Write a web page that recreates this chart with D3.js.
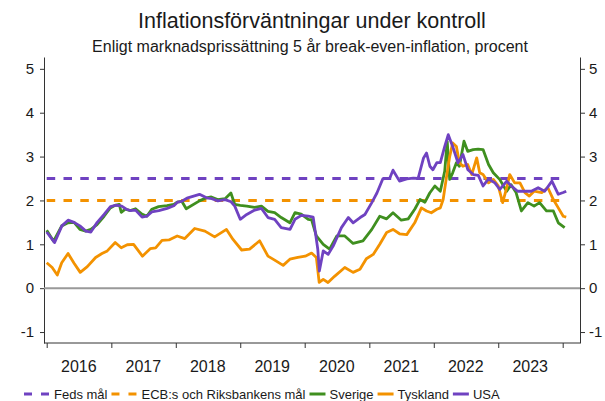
<!DOCTYPE html>
<html>
<head>
<meta charset="utf-8">
<script src="https://cdn.jsdelivr.net/npm/d3@7"></script>
<style>
body { margin: 0; background: #fff; }
text { font-family: "Liberation Sans", Arial, sans-serif; fill: #1a1a1a; }
</style>
</head>
<body>
<div id="chart"></div>
<script>
// 5 år break-even-inflation, procent
var sverige = [
    ["2016-01-01",1.32],["2016-02-09",1.07],["2016-03-26",1.42],["2016-05-01",1.49],["2016-06-04",1.50],
    ["2016-07-07",1.34],["2016-08-09",1.30],["2016-09-07",1.34],["2016-10-12",1.45],["2016-11-21",1.64],
    ["2016-12-26",1.83],["2017-01-23",1.89],["2017-02-15",1.91],["2017-02-26",1.73],["2017-03-21",1.80],
    ["2017-04-18",1.77],["2017-05-18",1.81],["2017-06-23",1.69],["2017-07-21",1.64],["2017-08-18",1.80],
    ["2017-09-26",1.86],["2017-11-12",1.88],["2017-12-21",1.91],["2018-01-09",1.96],["2018-02-04",1.98],
    ["2018-03-01",1.81],["2018-05-15",1.99],["2018-06-23",2.06],["2018-07-21",2.08],["2018-08-26",2.02],
    ["2018-10-07",2.04],["2018-11-09",2.17],["2018-12-01",1.91],["2019-01-01",1.89],["2019-02-07",1.87],
    ["2019-03-23",1.84],["2019-05-01",1.87],["2019-06-07",1.75],["2019-07-15",1.72],["2019-08-21",1.61],
    ["2019-10-09",1.49],["2019-11-07",1.72],["2019-12-12",1.69],["2020-01-21",1.57],["2020-02-09",1.56],
    ["2020-03-07",1.19],["2020-04-15",1.00],["2020-05-21",0.89],["2020-07-01",1.19],["2020-08-15",1.19],
    ["2020-10-01",1.02],["2020-11-26",1.08],["2021-01-15",1.34],["2021-03-01",1.64],["2021-04-09",1.58],
    ["2021-05-15",1.72],["2021-07-01",1.55],["2021-08-09",1.58],["2021-09-15",1.80],["2021-10-15",2.02],
    ["2021-11-12",1.96],["2021-12-09",2.17],["2022-01-07",2.33],["2022-02-07",2.21],["2022-03-04",2.67],
    ["2022-03-18",3.35],["2022-04-01",2.48],["2022-04-18",2.63],["2022-05-09",2.86],["2022-05-26",2.78],
    ["2022-06-21",3.35],["2022-07-12",3.12],["2022-08-12",3.16],["2022-09-09",3.17],["2022-10-07",3.16],
    ["2022-11-07",2.82],["2022-12-04",2.63],["2023-01-09",2.48],["2023-02-18",2.21],["2023-03-15",2.36],
    ["2023-04-12",2.18],["2023-05-12",1.76],["2023-06-18",1.95],["2023-07-23",1.87],["2023-08-23",1.95],
    ["2023-10-01",1.76],["2023-11-09",1.76],["2023-12-07",1.49],["2024-01-12",1.38]
];

var tyskland = [
    ["2016-01-01",0.58],["2016-02-01",0.47],["2016-03-01",0.30],["2016-03-26",0.58],["2016-05-01",0.79],
    ["2016-06-04",0.57],["2016-07-09",0.36],["2016-08-18",0.49],["2016-10-04",0.70],["2016-11-09",0.79],
    ["2016-12-09",0.85],["2017-01-23",1.04],["2017-02-26",0.92],["2017-04-01",0.99],["2017-05-07",1.00],
    ["2017-06-26",0.73],["2017-08-09",0.90],["2017-09-09",0.92],["2017-10-15",1.09],["2017-11-23",1.10],
    ["2018-01-09",1.19],["2018-02-21",1.13],["2018-04-18",1.36],["2018-06-15",1.30],["2018-08-09",1.17],
    ["2018-10-15",1.34],["2018-11-21",1.11],["2019-01-09",0.87],["2019-02-23",0.89],["2019-04-21",1.08],
    ["2019-06-07",0.73],["2019-07-15",0.64],["2019-09-01",0.52],["2019-10-09",0.66],["2019-11-23",0.70],
    ["2020-01-04",0.73],["2020-02-09",0.80],["2020-03-07",0.70],["2020-03-23",0.13],["2020-04-15",0.20],
    ["2020-05-12",0.13],["2020-06-18",0.27],["2020-08-15",0.47],["2020-10-01",0.36],["2020-11-09",0.43],
    ["2020-12-15",0.67],["2021-01-23",0.77],["2021-03-01",1.00],["2021-04-09",1.27],["2021-05-15",1.34],
    ["2021-06-21",1.24],["2021-08-01",1.22],["2021-09-15",1.49],["2021-10-23",1.83],["2021-11-21",1.76],
    ["2021-12-18",1.72],["2022-01-18",1.80],["2022-02-07",1.83],["2022-02-23",2.02],["2022-03-12",2.48],
    ["2022-04-01",3.00],["2022-04-18",3.31],["2022-05-09",3.23],["2022-05-26",2.86],["2022-06-15",2.78],
    ["2022-07-12",2.82],["2022-08-04",2.59],["2022-09-01",2.97],["2022-09-18",2.63],["2022-10-07",2.59],
    ["2022-11-07",2.40],["2022-12-04",2.48],["2023-01-01",2.33],["2023-01-26",1.95],["2023-02-18",2.29],
    ["2023-03-07",2.59],["2023-04-04",2.40],["2023-05-04",2.40],["2023-06-01",2.18],["2023-06-26",2.10],
    ["2023-07-23",2.21],["2023-09-04",2.18],["2023-10-09",2.29],["2023-11-09",2.02],["2023-12-07",1.83],
    ["2024-01-04",1.64],["2024-01-21",1.62]
];

var usa = [
    ["2016-01-01",1.28],["2016-02-15",1.04],["2016-03-27",1.42],["2016-05-01",1.55],["2016-06-04",1.50],
    ["2016-07-07",1.42],["2016-08-10",1.30],["2016-09-07",1.28],["2016-10-13",1.50],["2016-11-21",1.68],
    ["2016-12-27",1.86],["2017-01-24",1.89],["2017-02-15",1.88],["2017-03-01",1.87],["2017-03-27",1.80],
    ["2017-04-18",1.77],["2017-05-18",1.78],["2017-06-24",1.62],["2017-07-21",1.64],["2017-08-18",1.74],
    ["2017-09-27",1.77],["2017-11-13",1.82],["2017-12-21",1.88],["2018-01-10",1.96],["2018-02-04",1.98],
    ["2018-03-10",2.06],["2018-05-15",2.14],["2018-06-24",2.06],["2018-07-24",2.04],["2018-08-27",1.99],
    ["2018-10-07",2.02],["2018-11-10",1.97],["2018-12-01",1.87],["2019-01-01",1.57],["2019-02-07",1.68],
    ["2019-03-24",1.78],["2019-05-01",1.82],["2019-06-07",1.61],["2019-07-15",1.57],["2019-08-21",1.38],
    ["2019-10-10",1.34],["2019-11-07",1.57],["2019-12-13",1.66],["2020-01-21",1.64],["2020-02-18",1.62],
    ["2020-03-15",0.89],["2020-03-24",0.39],["2020-04-15",0.85],["2020-05-13",0.77],["2020-06-10",0.96],
    ["2020-07-27",1.38],["2020-09-04",1.61],["2020-10-01",1.49],["2020-11-10",1.61],["2020-12-07",1.68],
    ["2021-01-15",1.95],["2021-02-13",2.17],["2021-03-18",2.49],["2021-04-27",2.51],["2021-05-15",2.69],
    ["2021-06-21",2.44],["2021-08-01",2.49],["2021-09-07",2.51],["2021-10-04",2.50],["2021-11-04",2.97],
    ["2021-11-21",3.08],["2021-12-10",2.78],["2021-12-27",2.70],["2022-01-18",2.86],["2022-02-07",2.86],
    ["2022-03-04",3.23],["2022-03-24",3.50],["2022-04-18",3.23],["2022-05-18",2.86],["2022-06-15",3.05],
    ["2022-07-13",2.70],["2022-08-13",2.59],["2022-09-10",2.57],["2022-10-07",2.33],["2022-11-07",2.49],
    ["2022-12-13",2.40],["2023-01-10",2.25],["2023-02-18",2.44],["2023-03-15",2.33],["2023-04-21",2.21],
    ["2023-06-01",2.21],["2023-07-07",2.21],["2023-08-15",2.29],["2023-09-21",2.21],["2023-11-01",2.44],
    ["2023-12-07",2.14],["2024-01-04",2.18],["2024-01-21",2.21]
];

var fedsMal = 2.5;
var ecbMal = 2.0;
var yTicks = [-1, 0, 1, 2, 3, 4, 5];
var years = [2016, 2017, 2018, 2019, 2020, 2021, 2022, 2023];

var titel = "Inflationsförväntningar under kontroll";
var undertitel = "Enligt marknadsprissättning 5 år break-even-inflation, procent";

var lila = "#6f42c1", orange = "#f39200", gron = "#3f8f1f";

var legend = [
    {namn: "Feds mål", farg: lila, streckad: true},
    {namn: "ECB:s och Riksbankens mål", farg: orange, streckad: true},
    {namn: "Sverige", farg: gron, streckad: false},
    {namn: "Tyskland", farg: orange, streckad: false},
    {namn: "USA", farg: lila, streckad: false}
];

drawChart();

function drawChart() {
    var width = 605, height = 401;
    var left = 44, right = 580, top = 57, bottom = 343;
    var parse = d3.timeParse("%Y-%m-%d");

    var xScale = d3.scaleTime()
	.domain([new Date(2016, 0, 1), new Date(2024, 0, 1)])
	.range([46.7, 562.7]);

    var yScale = d3.scaleLinear()
	.domain([-1.25, 5.27])
	.range([bottom, top]);

    var svg = d3.select("#chart").append("svg")
	.attr("width", width)
	.attr("height", height);

    svg.append("text")
	.attr("x", 312)
	.attr("y", 28)
	.style("text-anchor", "middle")
	.style("font-size", "21.5px")
	.text(titel);

    svg.append("text")
	.attr("x", 310)
	.attr("y", 52)
	.style("text-anchor", "middle")
	.style("font-size", "16px")
	.text(undertitel);

    // axlar
    var yLeft = svg.append("g")
	.attr("transform", "translate(" + left + ",0)")
	.call(d3.axisLeft(yScale).tickValues(yTicks).tickSize(4).tickSizeOuter(0).tickPadding(6));
    var yRight = svg.append("g")
	.attr("transform", "translate(" + right + ",0)")
	.call(d3.axisRight(yScale).tickValues(yTicks).tickSize(5).tickSizeOuter(0).tickPadding(4));
    [yLeft, yRight].forEach(function(g) {
	g.selectAll("text").style("font-size", "15px").attr("fill", "#1a1a1a")
	    .text(function(d) { return d < 0 ? "-" + Math.abs(d) : d; });
	g.selectAll("line, path").attr("stroke", "#333");
    });

    svg.append("line")
	.attr("x1", left).attr("x2", right)
	.attr("y1", bottom).attr("y2", bottom)
	.attr("stroke", "#333");

    var xTicks = svg.append("g")
	.attr("transform", "translate(0," + bottom + ")")
	.call(d3.axisBottom(xScale).ticks(d3.timeYear.every(1)).tickSize(5).tickFormat(""));
    xTicks.select(".domain").remove();
    xTicks.selectAll("line").attr("stroke", "#333");

    svg.selectAll(".year")
	.data(years)
	.enter().append("text")
	.attr("class", "year")
	.attr("x", function(d) { return xScale(new Date(d, 6, 1)); })
	.attr("y", 372)
	.style("text-anchor", "middle")
	.style("font-size", "16px")
	.text(function(d) { return d; });

    // nollinje
    svg.append("line")
	.attr("x1", left).attr("x2", right)
	.attr("y1", yScale(0)).attr("y2", yScale(0))
	.attr("stroke", "#999")
	.attr("stroke-width", 2);

    var start = parse(usa[0][0]), slut = parse(usa[usa.length - 1][0]);
    [[fedsMal, lila], [ecbMal, orange]].forEach(function(m) {
	svg.append("line")
	    .attr("x1", xScale(start)).attr("x2", xScale(slut))
	    .attr("y1", yScale(m[0])).attr("y2", yScale(m[0]))
	    .attr("stroke", m[1])
	    .attr("stroke-width", 3)
	    .attr("stroke-dasharray", "8.5,8.3");
    });

    var line = d3.line()
	.x(function(d) { return xScale(parse(d[0])); })
	.y(function(d) { return yScale(d[1]); })
	.curve(d3.curveLinear);

    [[sverige, gron], [tyskland, orange], [usa, lila]].forEach(function(s) {
	svg.append("path")
	    .datum(s[0])
	    .attr("fill", "none")
	    .attr("stroke", s[1])
	    .attr("stroke-width", 2.8)
	    .attr("stroke-linejoin", "round")
	    .attr("d", line);
    });

    // legend
    var lx = 24, ly = 394;
    legend.forEach(function(l) {
	var w = l.streckad ? 26 : 16;
	svg.append("line")
	    .attr("x1", lx).attr("x2", lx + w)
	    .attr("y1", ly).attr("y2", ly)
	    .attr("stroke", l.farg)
	    .attr("stroke-width", 3)
	    .attr("stroke-dasharray", l.streckad ? "8,9" : null);
	var t = svg.append("text")
	    .attr("x", lx + w + 4)
	    .attr("y", ly + 5)
	    .style("font-size", "13px")
	    .text(l.namn);
	lx = lx + w + 4 + t.node().getComputedTextLength() + 4;
    });
}
</script>
</body>
</html>
